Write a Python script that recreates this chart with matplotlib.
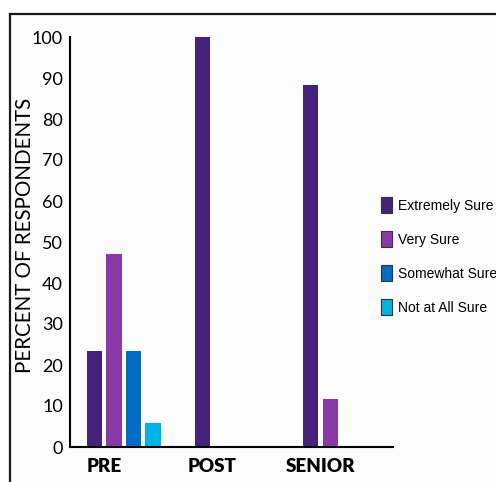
import numpy as np
import matplotlib.pyplot as plt
from matplotlib.patches import Patch, Rectangle
from matplotlib.lines import Line2D

groups = ['PRE', 'POST', 'SENIOR']
extremely_sure = [23.5, 100.0, 88.2]
very_sure = [47.1, 0.0, 11.8]
somewhat_sure = [23.5, 0.0, 0.0]
not_at_all_sure = [5.9, 0.0, 0.0]
yticks = [0, 10, 20, 30, 40, 50, 60, 70, 80, 90, 100]

series = [
    ('Extremely Sure', extremely_sure, '#45237d'),
    ('Very Sure', very_sure, '#8a3aa6'),
    ('Somewhat Sure', somewhat_sure, '#006dc2'),
    ('Not at All Sure', not_at_all_sure, '#00b3e6'),
]

W, H = 496, 482
fig = plt.figure(figsize=(W / 100, H / 100), dpi=100)

# page frame
fig.patches.append(Rectangle((10 / W, 0), 1, 1 - 14 / H, transform=fig.transFigure,
                             facecolor='#fcfcfc', edgecolor='none', zorder=-5))
fig.lines.append(Line2D([10 / W, 10 / W], [0, 1 - 14 / H], transform=fig.transFigure,
                        color='#1a1a1a', lw=1.6))
fig.lines.append(Line2D([10 / W, 1], [1 - 14 / H, 1 - 14 / H], transform=fig.transFigure,
                        color='#1a1a1a', lw=1.6))

ax = fig.add_axes([70 / W, (H - 447) / H, (393 - 70) / W, (447 - 37) / H])
ax.patch.set_visible(False)

x = np.arange(len(groups))
width = 0.14
step = 0.18
handles = []
for k, (name, vals, color) in enumerate(series):
    ax.bar(x + k * step, vals, width, color=color, align='center', zorder=2)
    handles.append(Patch(facecolor=color, edgecolor='#333333', linewidth=0.8, label=name))

ax.set_xlim(-0.227, 2.76)
ax.set_ylim(0, 100)
ax.set_yticks(yticks)
ax.set_xticks(x + 0.09)
ax.set_xticklabels(groups, fontfamily='Lato', fontweight='heavy', fontsize=13.5)
ax.set_yticklabels([str(v) for v in yticks], fontfamily='Lato', fontsize=13)
ax.tick_params(axis='y', length=0, pad=5)
ax.tick_params(axis='x', length=0, pad=8)

for s in ['top', 'right']:
    ax.spines[s].set_visible(False)
for s in ['left', 'bottom']:
    ax.spines[s].set_linewidth(1.5)
    ax.spines[s].set_zorder(3)

fig.text(25 / W, 1 - 235 / H, 'PERCENT OF RESPONDENTS',
         rotation=90, ha='center', va='center', fontfamily='Lato', fontsize=14.8)

fig.legend(handles=handles, loc='upper left', bbox_to_anchor=(381 / W, 1 - 197 / H),
           frameon=False, borderpad=0, borderaxespad=0, handlelength=0.8,
           handleheight=1.4, handletextpad=0.4, labelspacing=1.3,
           prop={'family': 'Liberation Sans', 'size': 10})

fig.savefig('out.png', dpi=100)
